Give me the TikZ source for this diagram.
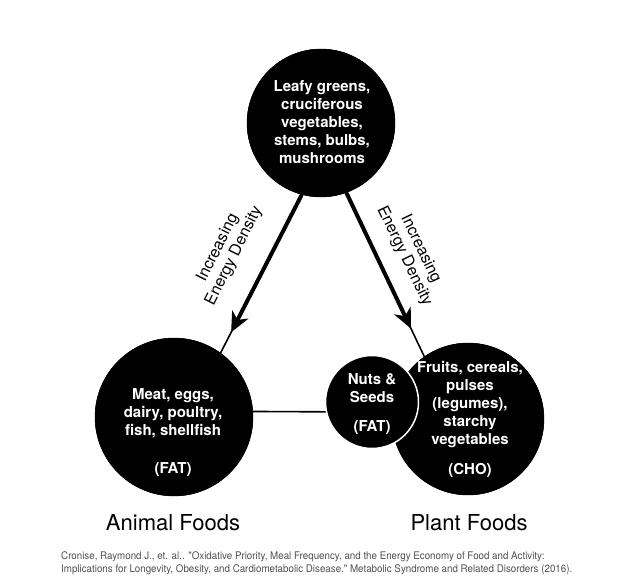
\documentclass[tikz,border=0pt]{standalone}
\usepackage{fontspec}
\setmainfont{TeX Gyre Heros}
\newfontfamily\citefont[FakeStretch=0.93]{TeX Gyre Heros}
\usetikzlibrary{arrows.meta}
\definecolor{citegray}{HTML}{505050}
\begin{document}
\begin{tikzpicture}[x=1pt,y=-1pt,
  disc/.style={circle, fill=black, draw=black, inner sep=0pt, minimum size=#1},
  intext/.style={text=white, align=center, inner sep=0pt, font=\bfseries\fontsize{15}{18}\selectfont},
  thinline/.style={line width=1.6pt, black},
  thickarrow/.style={line width=4pt, black, -{Stealth[length=20pt,width=18pt,inset=6pt]}},
  sidelabel/.style={align=center, inner sep=0pt, font=\fontsize{16}{18}\selectfont},
  grouplabel/.style={inner sep=0pt, font=\fontsize{22}{26}\selectfont}]
\useasboundingbox (0,0) rectangle (640,586);

% circles
\node[disc=148pt] (top) at (321,123) {};
\node[disc=158pt] (left) at (174,417) {};
\node[disc=152pt] (right) at (468,419) {};
\node[disc=93pt, draw=white, line width=1.5pt] (nuts) at (372,402) {};

% connectors
\draw[thinline] (top.255) -- (left.54) coordinate[pos=0.87] (la);
\draw[thickarrow] (top.255) -- (la);
\draw[thinline] (top.290) -- (right.125) coordinate[pos=0.83] (ra);
\draw[thickarrow] (top.290) -- (ra);
\draw[thinline] (left.4) -- (nuts.192);

% redraw circles over line ends
\fill[black] (top) circle (74pt);
\fill[black] (left) circle (79pt);
\fill[black] (right) circle (76pt);
\filldraw[fill=black, draw=white, line width=1.5pt] (nuts) circle (46.5pt);

% texts in circles
\node[intext] (ttext) at (322,122) {Leafy greens,\\cruciferous\\vegetables,\\stems, bulbs,\\mushrooms};
\node[intext] (ltext) at (173,433) {Meat, eggs,\\dairy, poultry,\\fish, shellfish\\[20pt](FAT)};
\node[intext] (rtext) at (470,419) {Fruits, cereals,\\pulses\\(legumes),\\starchy\\vegetables\\[12pt](CHO)};
\node[intext] (ntext) at (372,404) {Nuts \&\\Seeds\\[11pt](FAT)};

% side labels
\node[sidelabel, rotate=63.6] (llab) at (226,252) {Increasing\\Energy Density};
\node[sidelabel, rotate=-64.3] (rlab) at (412.5,252.5) {Increasing\\Energy Density};

% group labels
\node[grouplabel] (animal) at (173,523) {Animal Foods};
\node[grouplabel] (plant) at (469,523) {Plant Foods};

% citation
\node[anchor=west, align=left, inner sep=0pt, text=citegray,
      font=\citefont\fontsize{10.5}{12.5}\selectfont] (cite) at (61,563)
  {Cronise, Raymond J., et. al.. "Oxidative Priority, Meal Frequency, and the Energy Economy of Food and Activity:\\
   Implications for Longevity, Obesity, and Cardiometabolic Disease." Metabolic Syndrome and Related Disorders (2016).};
\end{tikzpicture}
\end{document}
